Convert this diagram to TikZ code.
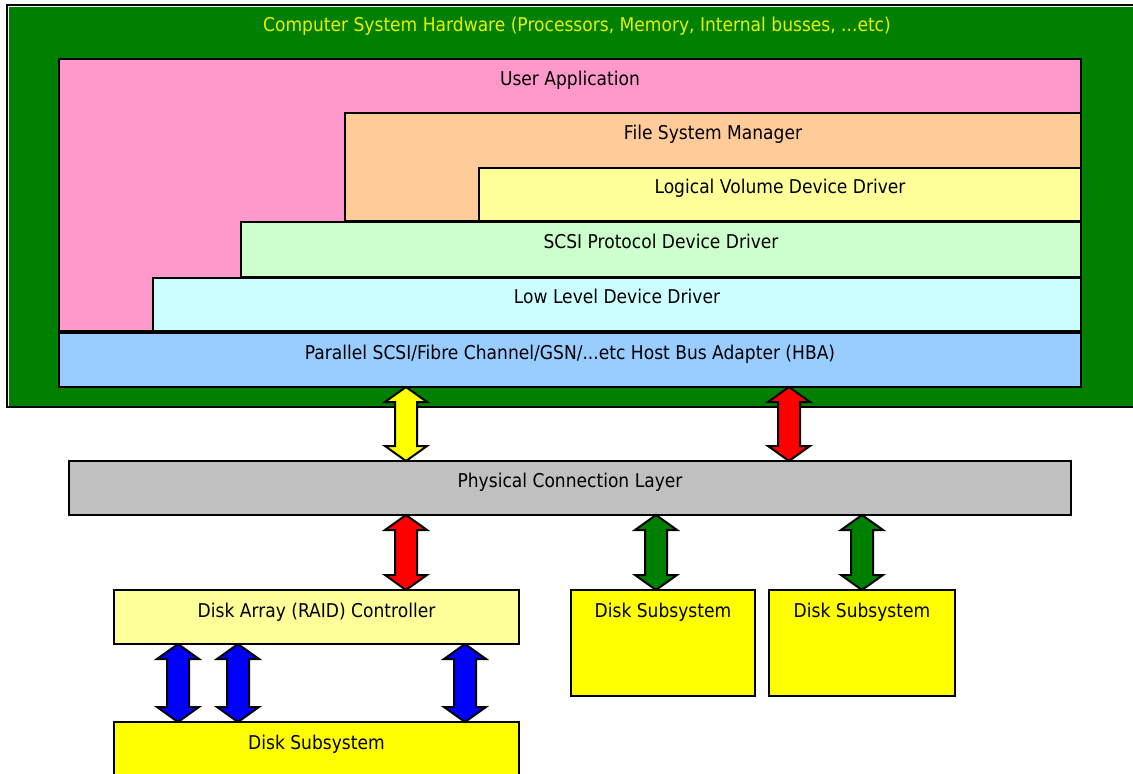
\documentclass[tikz,border=0pt]{standalone}
\usepackage{fontspec}
\setmainfont[FakeStretch=0.9]{DejaVu Sans}
\usetikzlibrary{calc}
\definecolor{hwgreen}{RGB}{0,128,0}
\definecolor{titleyellow}{RGB}{230,240,0}
\definecolor{uapink}{RGB}{255,153,204}
\definecolor{fsorange}{RGB}{255,204,153}
\definecolor{lvyellow}{RGB}{255,255,153}
\definecolor{scsigreen}{RGB}{204,255,204}
\definecolor{llcyan}{RGB}{204,255,255}
\definecolor{hbablue}{RGB}{153,204,255}
\definecolor{physgray}{RGB}{192,192,192}
\definecolor{diskyellow}{RGB}{255,255,0}
\definecolor{arrred}{RGB}{255,0,0}
\definecolor{arrblue}{RGB}{0,0,255}
\tikzset{
  lay/.style={draw=black, line width=2pt, inner sep=0pt, outer sep=0pt, anchor=north west},
  lbl/.style={anchor=base, inner sep=0pt, text=black, font=\fontsize{19}{22}\selectfont},
  blockarr/.style={draw=black, line width=2pt, line join=miter},
}
\newcommand{\dblarrow}[4]{%
  \draw[blockarr, fill=#1] let \p1=(#2,0 |- #3.south), \p2=(#2,0 |- #4.north) in
    (\p1) -- (\x1+21pt,\y1-15pt) -- (\x1+11pt,\y1-15pt) -- (\x1+11pt,\y2+15pt)
    -- (\x1+21pt,\y2+15pt) -- (\p2) -- (\x1-21pt,\y2+15pt) -- (\x1-11pt,\y2+15pt)
    -- (\x1-11pt,\y1-15pt) -- (\x1-21pt,\y1-15pt) -- cycle;}
\begin{document}
\begin{tikzpicture}[x=1pt,y=-1pt]
\useasboundingbox (0,0) rectangle (1133,774);
% hardware frame
\node[lay, fill=white, minimum width=1140pt, minimum height=402pt] (frame) at (7,5) {};
\fill[hwgreen] (8.5,6.5) rectangle (1150,406);
\node[lbl, text=titleyellow] (hwtitle) at ([yshift=-26pt]frame.north) {Computer System Hardware (Processors, Memory, Internal busses, ...etc)};
% software layers
\node[lay, fill=uapink, minimum width=1022pt, minimum height=272pt] (ua) at (59,59) {};
\node[lay, fill=fsorange, minimum width=736pt, minimum height=108pt] (fs) at (345,113) {};
\node[lay, fill=lvyellow, minimum width=602pt, minimum height=53pt] (lv) at (479,168) {};
\node[lay, fill=scsigreen, minimum width=840pt, minimum height=55pt, line width=2.5pt] (scsi) at (241,222) {};
\node[lay, fill=llcyan, minimum width=928pt, minimum height=53pt] (ll) at (153,278) {};
\node[lay, fill=hbablue, minimum width=1022pt, minimum height=54pt, line width=2.5pt] (hba) at (59,333) {};
\node[lbl] at ([yshift=-26pt]ua.north) {User Application};
\node[lbl] at ([yshift=-26pt]fs.north) {File System Manager};
\node[lbl] at ([yshift=-25pt]lv.north) {Logical Volume Device Driver};
\node[lbl] at ([yshift=-26pt]scsi.north) {SCSI Protocol Device Driver};
\node[lbl] at ([yshift=-25pt]ll.north) {Low Level Device Driver};
\node[lbl] at ([yshift=-26pt]hba.north) {Parallel SCSI/Fibre Channel/GSN/...etc Host Bus Adapter (HBA)};
% physical layer
\node[lay, fill=physgray, minimum width=1002pt, minimum height=54pt] (phys) at (69,461) {};
\node[lbl] at ([yshift=-26pt]phys.north) {Physical Connection Layer};
% storage
\node[lay, fill=lvyellow, minimum width=405pt, minimum height=54pt] (raid) at (114,590) {};
\node[lbl] at ([yshift=-27pt]raid.north) {Disk Array (RAID) Controller};
\node[lay, fill=diskyellow, minimum width=184pt, minimum height=106pt] (disk1) at (571,590) {};
\node[lbl] at ([yshift=-27pt]disk1.north) {Disk Subsystem};
\node[lay, fill=diskyellow, minimum width=186pt, minimum height=106pt] (disk2) at (769,590) {};
\node[lbl] at ([yshift=-27pt]disk2.north) {Disk Subsystem};
\node[lay, fill=diskyellow, minimum width=405pt, minimum height=70pt] (disk3) at (114,722) {};
\node[lbl] at ([yshift=-27pt]disk3.north) {Disk Subsystem};
% connectors
\dblarrow{diskyellow}{406}{hba}{phys}
\dblarrow{arrred}{789}{hba}{phys}
\dblarrow{arrred}{406}{phys}{raid}
\dblarrow{hwgreen}{656}{phys}{disk1}
\dblarrow{hwgreen}{862}{phys}{disk2}
\dblarrow{arrblue}{178}{raid}{disk3}
\dblarrow{arrblue}{238}{raid}{disk3}
\dblarrow{arrblue}{465}{raid}{disk3}
\end{tikzpicture}
\end{document}
